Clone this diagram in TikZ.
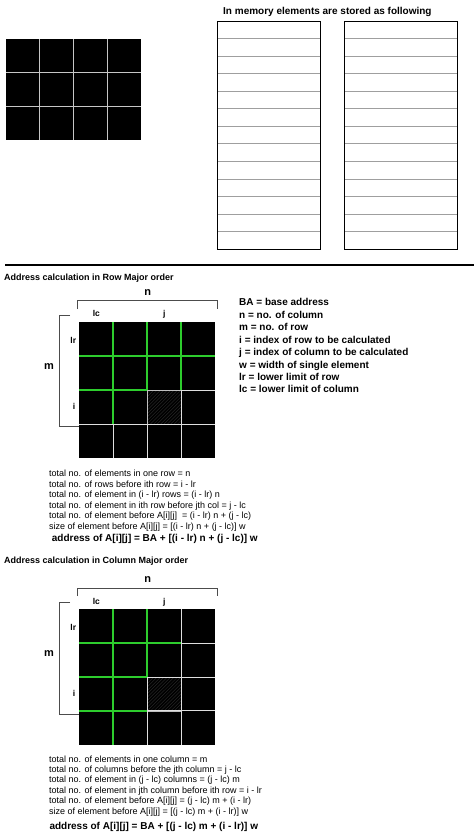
\documentclass[tikz,border=0pt]{standalone}
\usepackage{fontspec}
\setmainfont{Liberation Sans}
\definecolor{hitgreen}{RGB}{45,205,45}

\begin{document}
\begin{tikzpicture}[
        x=1pt, y=-1pt,
        cellline/.style={draw=gray!45, line width=0.8pt},
        paleline/.style={draw=gray!25, line width=0.9pt},
        hitline/.style={draw=hitgreen, line width=1.7pt},
        slotline/.style={draw=gray!75, line width=0.7pt},
        bracket/.style={draw=gray!60!black, line width=0.6pt},
        hatchline/.style={draw=gray!30!black, line width=0.5pt},
        heading/.style={font=\bfseries\fontsize{9}{10}\selectfont, anchor=base west, inner sep=0pt},
        sizelabel/.style={font=\bfseries\fontsize{11}{12}\selectfont, inner sep=0pt},
        indexlabel/.style={font=\bfseries\fontsize{8.5}{10}\selectfont, anchor=base, inner sep=0pt},
        legend/.style={font=\bfseries\fontsize{10}{12}\selectfont, anchor=base west, inner sep=0pt},
        formula/.style={font=\fontsize{9}{10}\selectfont, anchor=base west, inner sep=0pt},
        result/.style={font=\bfseries\fontsize{10}{12}\selectfont, anchor=base west, inner sep=0pt},
    ]
        \useasboundingbox (0,0) rectangle (474,835);

        % --- 3 x 4 array ---
        \fill[black] (6,39) rectangle (141,140);
        \foreach \x in {39.75, 73.5, 107.25} {
            \draw[cellline] (\x,39) -- (\x,140);
        }
        \foreach \y in {72.7, 106.3} {
            \draw[cellline] (6,\y) -- (141,\y);
        }

        % --- memory columns ---
        \node[font=\bfseries\fontsize{10}{12}\selectfont, anchor=base west, inner sep=0pt] (memtitle) at (223,14.6) {In memory elements are stored as following};
        \foreach \x/\w in {217/103, 344/113} {
            \foreach \k in {1,...,12} {
                \draw[slotline] (\x,21+\k*17.54) -- ++(\w,0);
            }
            \draw[line width=1pt] (\x,21) rectangle ++(\w,228);
        }

        \draw[line width=1.6pt] (5,265) -- (474,265);

        % --- row major order ---
        \node[heading] (rowhead) at (4,280.3) {Address calculation in Row Major order};
        \begin{scope}[shift={(79.3,322.3)}, x=33.9pt, y=-33.9pt]
            \fill[black] (0,0) rectangle (4,4);
            % A[i][j]
            \begin{scope}
                \clip (2,2) rectangle (3,3);
                \foreach \d in {0,0.1,...,2} {
                    \draw[hatchline] (1+\d,3) -- (2+\d,2);
                }
            \end{scope}
            \draw[gray!50] (2,2) rectangle (3,3);
            % cells after A[i][j]
            \draw[paleline] (1,3) -- (1,4) (2,3) -- (2,4) (3,2) -- (3,4);
            \draw[paleline] (3,2) -- (4,2) (0,3) -- (4,3);
            % cells before A[i][j]
            \draw[hitline] (1,0) -- (1,3);
            \draw[hitline] (2,0) -- (2,2);
            \draw[hitline] (3,0) -- (3,2);
            \draw[hitline] (0,1) -- (4,1);
            \draw[hitline] (0,2) -- (2,2);
        \end{scope}
        \draw[bracket] (77.3,309) -- (77.3,300.7) -- (217.7,300.7) -- (217.7,309);
        \draw[bracket] (70,315) -- (59.3,315) -- (59.3,426.7) -- (79,426.7);
        \node[sizelabel] (rown) at (147.7,293) {n};
        \node[sizelabel] (rowm) at (49,366.7) {m};
        \node[indexlabel] (rowlc) at (96.3,316.5) {lc};
        \node[indexlabel] (rowj) at (164.3,316.3) {j};
        \node[indexlabel] (rowlr) at (73.3,343.5) {lr};
        \node[indexlabel] (rowi) at (74,409.3) {i};

        % --- legend ---
        \foreach \y/\txt [count=\k] in {
            305.8/{BA = base address},
            318.1/{n = no. of column},
            330.8/{m = no. of row},
            343.1/{i = index of row to be calculated},
            355.5/{j = index of column to be calculated},
            368.1/{w = width of single element},
            380.5/{lr = lower limit of row},
            392.8/{lc = lower limit of column}} {
            \node[legend] (key\k) at (239,\y) {\txt};
        }

        \foreach \y/\txt [count=\k] in {
            476.8/{total no. of elements in one row = n},
            487.2/{total no. of rows before ith row = i - lr},
            497.8/{total no. of element in (i - lr) rows = (i - lr) n},
            508.5/{total no. of element in ith row before jth col = j - lc},
            518.8/{total no. of element before A[i][j]\ \ = (i - lr) n + (j - lc)},
            529.2/{size of element before A[i][j] = [(i - lr) n + (j - lc)] w}} {
            \node[formula] (rowstep\k) at (49,\y) {\txt};
        }
        \node[result] (rowaddr) at (51.7,541) {address of A[i][j] = BA + [(i - lr) n + (j - lc)] w};

        % --- column major order ---
        \node[heading] (colhead) at (4,563.3) {Address calculation in Column Major order};
        \begin{scope}[shift={(79.3,609.3)}, x=33.9pt, y=-33.85pt]
            \fill[black] (0,0) rectangle (4,4);
            % A[i][j]
            \begin{scope}
                \clip (2,2) rectangle (3,3);
                \foreach \d in {0,0.1,...,2} {
                    \draw[hatchline] (1+\d,3) -- (2+\d,2);
                }
            \end{scope}
            \draw[gray!50] (2,2) rectangle (3,3);
            % cells after A[i][j]
            \draw[paleline] (2,2) -- (2,4) (3,0) -- (3,4);
            \draw[paleline] (3,1) -- (4,1) (2,2) -- (4,2) (2,3) -- (4,3);
            % cells before A[i][j]
            \draw[hitline] (1,0) -- (1,4);
            \draw[hitline] (2,0) -- (2,2);
            \draw[hitline] (0,1) -- (3,1);
            \draw[hitline] (0,2) -- (2,2);
            \draw[hitline] (0,3) -- (2,3);
        \end{scope}
        \draw[bracket] (77.3,596) -- (77.3,588.3) -- (217.7,588.3) -- (217.7,596);
        \draw[bracket] (70,602.3) -- (59.3,602.3) -- (59.3,714) -- (79,714);
        \node[sizelabel] (coln) at (147.7,580) {n};
        \node[sizelabel] (colm) at (49,654) {m};
        \node[indexlabel] (collc) at (96.3,604.2) {lc};
        \node[indexlabel] (colj) at (164.3,604.5) {j};
        \node[indexlabel] (collr) at (73.3,630.8) {lr};
        \node[indexlabel] (coli) at (74,696.4) {i};

        \foreach \y/\txt [count=\k] in {
            762.2/{total no. of elements in one column = m},
            772.5/{total no. of columns before the jth column = j - lc},
            782.8/{total no. of element in (j - lc) columns = (j - lc) m},
            793.2/{total no. of element in jth column before ith row = i - lr},
            803.8/{total no. of element before A[i][j] = (j - lc) m + (i - lr)},
            814.2/{size of element before A[i][j] = [(j - lc) m + (i - lr)] w}} {
            \node[formula] (colstep\k) at (49,\y) {\txt};
        }
        \node[result] (coladdr) at (49.3,829) {address of A[i][j] = BA + [(j - lc) m + (i - lr)] w};
    \end{tikzpicture}
\end{document}
